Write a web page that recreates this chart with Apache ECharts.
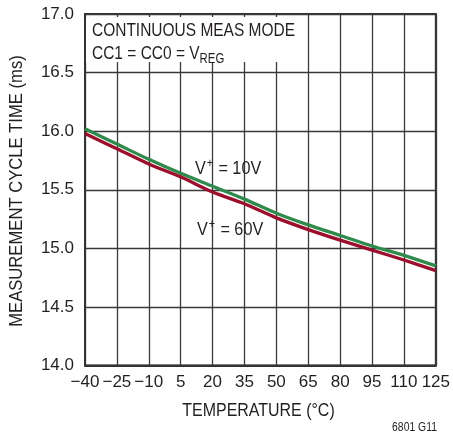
<!DOCTYPE html>
<html>
<head>
<meta charset="utf-8">
<script src="https://cdn.jsdelivr.net/npm/echarts@6/dist/echarts.min.js"></script>
<style>
html,body{margin:0;padding:0;background:#fff;}
#chart{width:453px;height:434px;}
</style>
</head>
<body>
<div id="chart"></div>
<script>
var temperatures = ['-40','-25','-10','5','20','35','50','65','80','95','110','125'];
var cycleTime10V = [16.02,15.89,15.76,15.64,15.53,15.42,15.30,15.20,15.11,15.02,14.94,14.85];
var cycleTime60V = [15.98,15.85,15.72,15.61,15.48,15.38,15.26,15.16,15.07,14.985,14.90,14.81];
var yMin = 14, yMax = 17, yStep = 0.5;
var xTitle = 'TEMPERATURE (°C)';
var yTitle = 'MEASUREMENT CYCLE TIME (ms)';

var FONT = '"Liberation Sans",Arial,sans-serif';
var TXT = '#231f20';
var GRIDC = '#3a3a3a';

var chart = echarts.init(document.getElementById('chart'), null, {renderer:'canvas'});
chart.setOption({
  animation:false,
  backgroundColor:'#fff',
  grid:{left:85,right:16.5,top:14,bottom:68.5,show:true,borderColor:'#333',borderWidth:2,backgroundColor:'transparent'},
  xAxis:{
    type:'category',
    data:temperatures,
    boundaryGap:false,
    axisLine:{show:true,lineStyle:{color:'#333',width:2}},
    axisTick:{show:false},
    axisLabel:{fontFamily:FONT,fontSize:17,color:TXT,margin:8,interval:0,
      formatter:function(v){return v.replace('-','\u2212');}},
    splitLine:{show:true,interval:0,lineStyle:{color:GRIDC,width:1.3}}
  },
  yAxis:{
    type:'value',
    min:yMin,max:yMax,interval:yStep,
    axisLine:{show:true,lineStyle:{color:'#333',width:2}},
    axisTick:{show:false},
    axisLabel:{fontFamily:FONT,fontSize:17,color:TXT,margin:11,
      formatter:function(v){return v.toFixed(1);}},
    splitLine:{show:true,lineStyle:{color:GRIDC,width:1.3}}
  },
  series:[
    {name:'V+ = 10V',type:'line',data:cycleTime10V,symbol:'none',smooth:0.3,
     lineStyle:{color:'#2f8a4b',width:3.3},z:5},
    {name:'V+ = 60V',type:'line',data:cycleTime60V,symbol:'none',smooth:0.3,
     lineStyle:{color:'#9b0f2d',width:3.3},z:6}
  ],
  graphic:[
    {type:'rect',z:50,shape:{x:86,y:17,width:214,height:45},style:{fill:'#fff'}},
    {type:'text',z:60,x:92,y:21,scaleX:0.815,style:{text:'CONTINUOUS MEAS MODE',font:'19px '+FONT,fill:TXT,verticalAlign:'top'}},
    {type:'text',z:60,x:92,y:41,scaleX:0.815,style:{
      text:'{n|CC1 = CC0 = V}{s|REG}',verticalAlign:'top',
      rich:{n:{font:'19px '+FONT,fill:TXT,verticalAlign:'bottom',lineHeight:22},
            s:{font:'14px '+FONT,fill:TXT,verticalAlign:'bottom',lineHeight:16,padding:[0,0,-3,0]}}}},
    {type:'text',z:60,x:195,y:158,scaleX:0.9,style:{
      text:'{n|V}{p|+}{n| = 10V}',verticalAlign:'top',
      rich:{n:{font:'18px '+FONT,fill:TXT,lineHeight:20,verticalAlign:'bottom'},
            p:{font:'12px '+FONT,fill:TXT,lineHeight:20,verticalAlign:'top',padding:[0,1,4,1]}}}},
    {type:'text',z:60,x:197,y:219,scaleX:0.9,style:{
      text:'{n|V}{p|+}{n| = 60V}',verticalAlign:'top',
      rich:{n:{font:'18px '+FONT,fill:TXT,lineHeight:20,verticalAlign:'bottom'},
            p:{font:'12px '+FONT,fill:TXT,lineHeight:20,verticalAlign:'top',padding:[0,1,4,1]}}}},
    {type:'text',z:60,x:258.5,y:411,scaleX:0.84,style:{text:xTitle,font:'19px '+FONT,fill:TXT,align:'center',verticalAlign:'middle'}},
    {type:'text',z:60,x:17,y:191,rotation:Math.PI/2,scaleX:0.875,style:{text:yTitle,font:'19px '+FONT,fill:TXT,align:'center',verticalAlign:'middle'}},
    {type:'text',z:60,x:437,y:427,scaleX:0.8,style:{text:'6801 G11',font:'13px '+FONT,fill:TXT,align:'right',verticalAlign:'middle'}}
  ]
});
</script>
</body>
</html>
